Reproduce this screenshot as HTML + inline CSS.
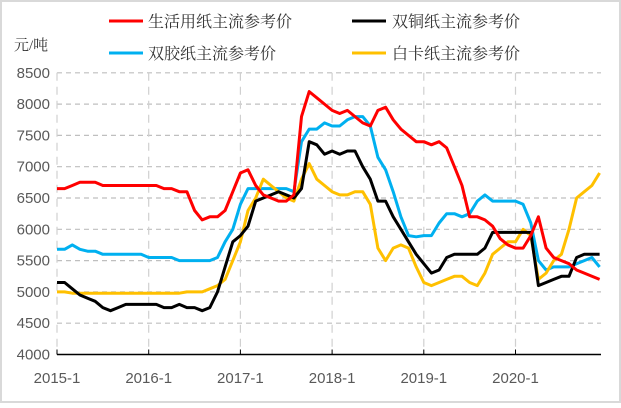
<!DOCTYPE html>
<html><head><meta charset="utf-8">
<style>
body{margin:0;background:#fff;}
svg text{font-family:"Liberation Sans","Noto Sans CJK SC",sans-serif;}
svg text.cjk{font-family:"Liberation Serif","Noto Serif CJK SC",serif;}
</style></head>
<body>
<svg width="621" height="403" viewBox="0 0 621 403">
<rect x="1" y="1" width="619" height="401" fill="#fff" stroke="#d9d9d9" stroke-width="2"/>
<g id="grid"></g>
<g id="axes"></g>
<g id="series"></g>
<text class="cjk" x="14" y="50" font-size="15" fill="#333">元/吨</text>
<g>
<g><line x1="109" y1="21" x2="143" y2="21" stroke="#ff0000" stroke-width="3"/><text class="cjk" x="148" y="27" font-size="16" fill="#333">生活用纸主流参考价</text></g>
<g><line x1="352" y1="21" x2="386" y2="21" stroke="#000" stroke-width="3"/><text class="cjk" x="392" y="27" font-size="16" fill="#333">双铜纸主流参考价</text></g>
<g><line x1="109" y1="53" x2="143" y2="53" stroke="#00b0f0" stroke-width="3"/><text class="cjk" x="148" y="59" font-size="16" fill="#333">双胶纸主流参考价</text></g>
<g><line x1="352" y1="53" x2="386" y2="53" stroke="#ffc000" stroke-width="3"/><text class="cjk" x="392" y="59" font-size="16" fill="#333">白卡纸主流参考价</text></g>
</g>
</svg>
<script>
const yTicks=[4000,4500,5000,5500,6000,6500,7000,7500,8000,8500];
const xLabels=["2015-1","2016-1","2017-1","2018-1","2019-1","2020-1"];
const tissue=[6650,6650,6700,6750,6750,6750,6700,6700,6700,6700,6700,6700,
6700,6700,6650,6650,6600,6600,6300,6150,6200,6200,6300,6600,
6900,6950,6700,6550,6500,6450,6450,6550,7800,8200,8100,8000,
7900,7850,7900,7800,7700,7650,7900,7950,7750,7600,7500,7400,
7400,7350,7400,7300,7000,6700,6200,6200,6150,6050,5850,5750,
5700,5700,5900,6200,5700,5550,5500,5450,5350,5300,5250,5200];
const coated=[5150,5150,5050,4950,4900,4850,4750,4700,4750,4800,4800,4800,
4800,4800,4750,4750,4800,4750,4750,4700,4750,5000,5400,5800,
5900,6050,6450,6500,6550,6600,6550,6500,6650,7400,7350,7200,
7250,7200,7250,7250,7000,6800,6450,6450,6200,6000,5800,5600,
5450,5300,5350,5550,5600,5600,5600,5600,5700,5950,5950,5950,
5950,5950,5950,5100,5150,5200,5250,5250,5550,5600,5600,5600];
const offset=[5680,5680,5750,5680,5650,5650,5600,5600,5600,5600,5600,5600,
5550,5550,5550,5550,5500,5500,5500,5500,5500,5550,5800,6000,
6400,6650,6650,6650,6650,6650,6650,6600,7400,7600,7600,7700,
7650,7650,7750,7800,7800,7650,7150,6950,6600,6200,5900,5880,
5900,5900,6100,6250,6250,6200,6250,6450,6550,6450,6450,6450,
6450,6400,6100,5500,5350,5400,5400,5400,5450,5500,5550,5400];
const ivory=[5000,5000,4980,4980,4980,4980,4980,4980,4980,4980,4980,4980,
4980,4980,4980,4980,4980,5000,5000,5000,5050,5100,5200,5500,
5800,6300,6500,6800,6700,6600,6500,6450,6800,7050,6800,6700,
6600,6550,6550,6600,6600,6400,5700,5500,5700,5750,5700,5400,
5150,5100,5150,5200,5250,5250,5150,5100,5300,5600,5700,5800,
5800,6000,5900,5200,5300,5500,5600,6000,6500,6600,6700,6900];
const NS="http://www.w3.org/2000/svg";
const x0=57,yearW=91.7,monthW=yearW/12;
function xScale(i){return x0+i*monthW;}
function yScale(v){return 354.5-(v-4000)*0.0626;}
const grid=document.getElementById('grid'),axes=document.getElementById('axes'),ser=document.getElementById('series');
yTicks.forEach(v=>{
 if(v>4000){const l=document.createElementNS(NS,'line');
 l.setAttribute('x1',x0);l.setAttribute('x2',601);l.setAttribute('y1',yScale(v));l.setAttribute('y2',yScale(v));
 l.setAttribute('stroke','#bfbfbf');l.setAttribute('stroke-dasharray','5,4');l.setAttribute('stroke-width','1.2');
 
 
 grid.appendChild(l);}
 const t=document.createElementNS(NS,'text');
 t.setAttribute('x',50);t.setAttribute('y',yScale(v)+5);t.setAttribute('text-anchor','end');t.setAttribute('font-size','15');t.setAttribute('fill','#595959');
 t.textContent=v;
 
 
 axes.appendChild(t);
});
xLabels.forEach((s,i)=>{
 const x=x0+i*yearW;
 const l=document.createElementNS(NS,'line');
 l.setAttribute('x1',x);l.setAttribute('x2',x);l.setAttribute('y1',yScale(8500));l.setAttribute('y2',yScale(4000));
 l.setAttribute('stroke','#d0d0d0');l.setAttribute('stroke-dasharray','8,6');l.setAttribute('stroke-width','1.2');
 
 
 grid.appendChild(l);
 const tk=document.createElementNS(NS,'line');
 tk.setAttribute('x1',x);tk.setAttribute('x2',x);tk.setAttribute('y1',yScale(4000));tk.setAttribute('y2',yScale(4000)-5);tk.setAttribute('stroke','#000');
 
 
 axes.appendChild(tk);
 const t=document.createElementNS(NS,'text');
 t.setAttribute('x',x);t.setAttribute('y',383);t.setAttribute('text-anchor','middle');t.setAttribute('font-size','15');t.setAttribute('fill','#595959');
 t.textContent=s;
 
 
 axes.appendChild(t);
});
const ax=document.createElementNS(NS,'line');
ax.setAttribute('x1',x0);ax.setAttribute('x2',601);ax.setAttribute('y1',yScale(4000));ax.setAttribute('y2',yScale(4000));ax.setAttribute('stroke','#000');ax.setAttribute('stroke-width','1.5');


axes.appendChild(ax);
function draw(arr,color,name){
 const p=document.createElementNS(NS,'polyline');
 p.setAttribute('points',arr.map((v,i)=>xScale(i).toFixed(1)+','+yScale(v).toFixed(1)).join(' '));
 p.setAttribute('fill','none');p.setAttribute('stroke',color);p.setAttribute('stroke-width','3');p.setAttribute('stroke-linejoin','round');
 
 
 ser.appendChild(p);
}
draw(offset,'#00b0f0','series-offset-paper');
draw(ivory,'#ffc000','series-ivory-board');
draw(coated,'#000000','series-coated-paper');
draw(tissue,'#ff0000','series-tissue-paper');
</script>
</body></html>
